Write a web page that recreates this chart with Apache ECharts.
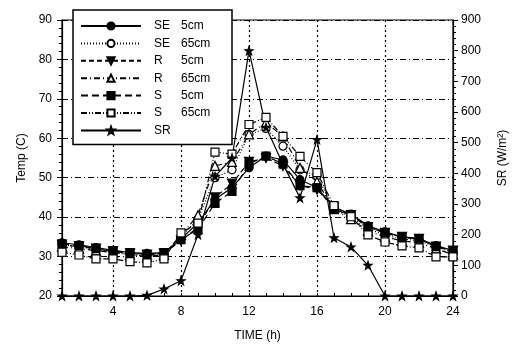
<!DOCTYPE html>
<html>
<head>
<meta charset="utf-8">
<script src="https://cdn.jsdelivr.net/npm/echarts@6/dist/echarts.min.js"></script>
<style>
  html, body { margin: 0; padding: 0; background: #fff; }
  #chart { width: 522px; height: 352px; }
</style>
</head>
<body>
<div id="chart"></div>
<script>
// Hour of day (h)
const hours = ['1','2','3','4','5','6','7','8','9','10','11','12','13','14','15','16','17','18','19','20','21','22','23','24'];

// Temperatures (°C) at 5 cm and 65 cm depth for each plot
const se5  = [33.5,33.0,32.3,31.6,31.0,30.8,31.0,34.5,38.5,44.5,47.5,52.5,55.5,54.5,49.5,47.5,42.5,40.8,37.8,36.3,35.0,34.6,32.8,31.5];
const se65 = [33.0,32.5,31.8,31.2,30.5,30.2,30.5,35.0,39.5,50.0,52.0,61.0,62.5,58.0,52.0,50.5,42.0,40.0,37.0,35.5,34.5,34.0,32.5,31.0];
const r5   = [33.0,32.5,32.0,31.3,30.8,30.5,30.8,34.0,37.5,45.0,48.5,54.0,55.0,53.0,48.0,47.0,42.5,40.5,37.5,36.0,35.0,34.5,32.5,31.5];
const r65  = [32.5,32.0,31.5,31.0,30.5,30.0,30.5,35.5,40.5,53.0,54.0,61.0,64.0,60.5,52.5,49.0,42.0,39.5,36.5,35.0,34.0,33.5,32.0,30.5];
const s5   = [33.2,32.8,32.0,31.5,31.0,30.5,31.0,34.3,37.0,43.5,46.5,53.5,55.5,53.5,48.0,47.5,42.0,40.5,37.5,36.0,34.8,34.5,32.5,31.5];
const s65  = [31.1,30.4,29.4,29.4,28.7,28.4,29.4,36.0,38.5,56.5,56.0,63.5,65.3,60.5,55.4,51.3,42.9,40.1,35.5,33.7,32.7,32.2,29.9,29.9];

// Solar radiation (W/m²)
const sr   = [0,0,0,0,0,2,23,50,200,390,450,800,550,430,320,510,190,160,100,0,0,0,0,0];

// Legend labels: [site, depth]
const names = [['SE','5cm'],['SE','65cm'],['R','5cm'],['R','65cm'],['S','5cm'],['S','65cm'],['SR','']];

const FONT = 'Liberation Sans, Arial, sans-serif';
const dashDot = [6, 3, 1, 3];
const dashDotDot = [6, 2, 1, 2, 1, 2];
const star = 'path://M0,-10 L2.4,-3.2 L9.5,-3.1 L3.8,1.2 L5.9,8.1 L0,4 L-5.9,8.1 L-3.8,1.2 L-9.5,-3.1 L-2.4,-3.2 Z';

function series(idx, data, symbol, filled, lineType, axis) {
  return {
    name: names[idx].join(' '),
    type: 'line',
    yAxisIndex: axis || 0,
    data: data,
    symbol: symbol,
    symbolSize: symbol === 'triangle' ? 9 : 8,
    showAllSymbol: true,
    lineStyle: { color: '#000', width: 1.2, type: lineType },
    itemStyle: { color: filled ? '#000' : '#fff', borderColor: '#000', borderWidth: 1.2 },
    emphasis: { disabled: true },
    animation: false
  };
}

const option = {
  animation: false,
  backgroundColor: '#fff',
  grid: { left: 62, right: 69, top: 20, bottom: 56, show: true, borderColor: '#000', borderWidth: 1.2, backgroundColor: 'transparent' },
  legend: {
    left: 73, top: 10, orient: 'vertical',
    itemWidth: 60, itemHeight: 9, itemGap: 5.4,
    padding: [10, 17, 8, 7],
    backgroundColor: '#fff', borderColor: '#000', borderWidth: 1.5,
    data: names.map(n => n.join(' ')),
    formatter: function (name) {
      const n = names.find(x => x.join(' ') === name);
      return '{a|' + n[0] + '}{b|' + n[1] + '}';
    },
    textStyle: {
      fontFamily: FONT, fontSize: 12, color: '#000', lineHeight: 12,
      rich: {
        a: { fontFamily: FONT, fontSize: 12, lineHeight: 12, width: 27, padding: [0, 0, 0, 8], color: '#000' },
        b: { fontFamily: FONT, fontSize: 12, lineHeight: 12, width: 34, color: '#000' }
      }
    }
  },
  xAxis: {
    type: 'category', data: hours, boundaryGap: false,
    name: 'TIME (h)', nameLocation: 'middle', nameGap: 34,
    nameTextStyle: { fontFamily: FONT, fontSize: 12, color: '#000' },
    axisLine: { lineStyle: { color: '#000', width: 1.2 } },
    axisTick: { inside: true, length: 3, interval: 0, lineStyle: { color: '#000' } },
    axisLabel: {
      interval: (i, v) => (+v) % 4 === 0,
      fontFamily: FONT, fontSize: 12, color: '#000', margin: 10
    },
    splitLine: {
      show: true,
      interval: (i, v) => (+v) % 4 === 0 && +v < 24,
      lineStyle: { color: '#000', type: [2, 3], width: 1.2 }
    }
  },
  yAxis: [
    {
      type: 'value', min: 20, max: 90, interval: 10,
      name: 'Temp (C)', nameLocation: 'middle', nameGap: 34, nameRotate: 90,
      nameTextStyle: { fontFamily: FONT, fontSize: 12, color: '#000' },
      axisLine: { show: true, lineStyle: { color: '#000', width: 1.2 } },
      axisTick: { show: true, length: 5, lineStyle: { color: '#000' } },
      minorTick: { show: true, splitNumber: 5, length: 3, lineStyle: { color: '#000' } },
      axisLabel: { fontFamily: FONT, fontSize: 12, color: '#000', margin: 10 },
      splitLine: { show: true, lineStyle: { color: '#000', type: dashDot, width: 1.2 } }
    },
    {
      type: 'value', min: 0, max: 900, interval: 100, position: 'right',
      name: 'SR (W/m²)', nameLocation: 'middle', nameGap: 44, nameRotate: 90,
      nameTextStyle: { fontFamily: FONT, fontSize: 12, color: '#000' },
      axisLine: { show: true, lineStyle: { color: '#000', width: 1.2 } },
      axisTick: { show: true, length: 5, lineStyle: { color: '#000' } },
      minorTick: { show: true, splitNumber: 5, length: 3, lineStyle: { color: '#000' } },
      axisLabel: { fontFamily: FONT, fontSize: 12, color: '#000', margin: 8 },
      splitLine: { show: false }
    }
  ],
  series: [
    series(0, se5,  'circle', true, 'solid'),
    series(1, se65, 'circle', false, [1, 2]),
    series(2, r5,   'triangle', true, [5, 3]),
    series(3, r65,  'triangle', false, dashDot),
    series(4, s5,   'rect', true, [7, 4]),
    series(5, s65,  'rect', false, dashDotDot),
    series(6, sr,   star, true, 'solid', 1)
  ]
};
// Filled markers point downward for the R 5cm series
option.series[2].symbolRotate = 180;

const chart = echarts.init(document.getElementById('chart'), null, { renderer: 'canvas' });
chart.setOption(option);
</script>
</body>
</html>
